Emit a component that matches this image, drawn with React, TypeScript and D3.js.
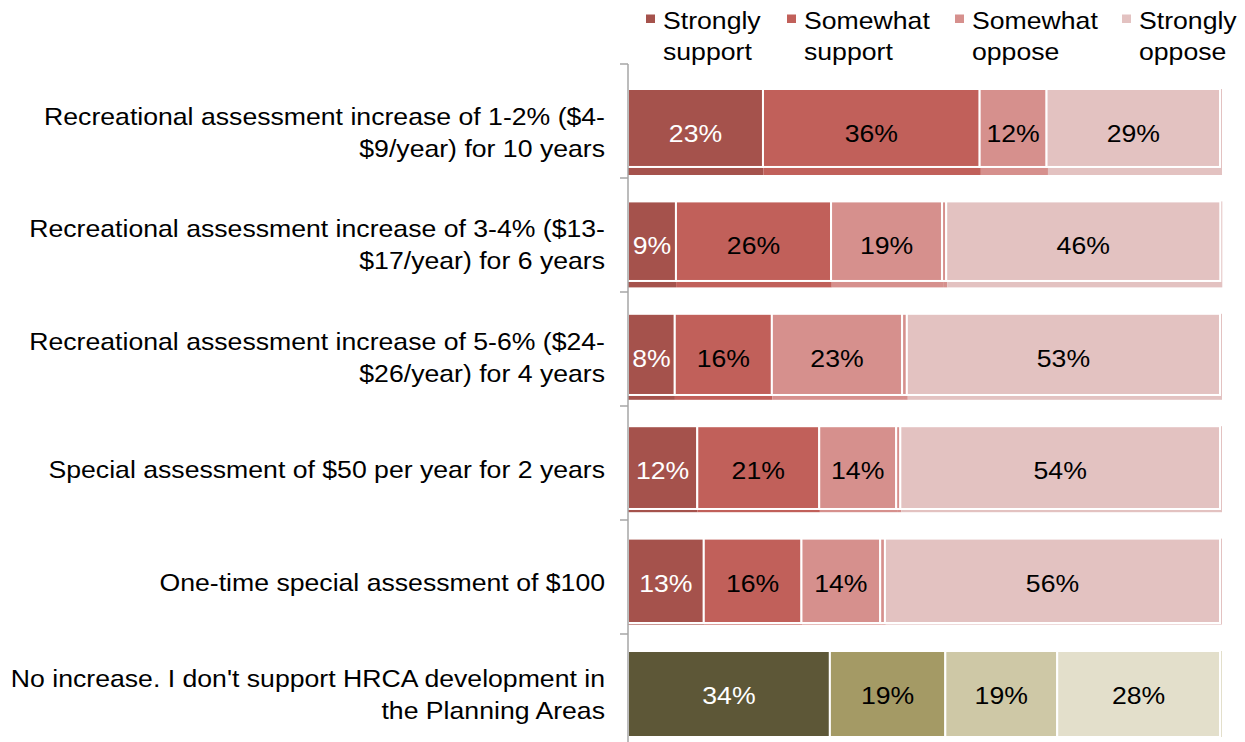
import * as d3 from 'd3'

const categories = [
  ['Recreational assessment increase of 1-2% ($4-', '$9/year) for 10 years'],
  ['Recreational assessment increase of 3-4% ($13-', '$17/year) for 6 years'],
  ['Recreational assessment increase of 5-6% ($24-', '$26/year) for 4 years'],
  ['Special assessment of $50 per year for 2 years'],
  ['One-time special assessment of $100'],
  ["No increase. I don't support HRCA development in", 'the Planning Areas'],
]
const catKeys = categories.map((c) => c.join(' '))

const seriesNames = ['Strongly support', 'Somewhat support', 'Somewhat oppose', "Don't know", 'Strongly oppose']
const legendNames = [['Strongly', 'support'], ['Somewhat', 'support'], ['Somewhat', 'oppose'], ['Strongly', 'oppose']]

const stronglySupport = [22.8, 8.1, 7.9, 11.7, 12.8, 34.1]
const somewhatSupport = [36.6, 26.2, 16.4, 20.6, 16.5, 19.5]
const somewhatOppose = [11.3, 18.75, 22.0, 13.0, 13.3, 18.9]
const dontKnow = [0, 0.7, 0.8, 0.7, 0.8, 0]
const stronglyOppose = [29.3, 46.3, 52.9, 54.0, 56.6, 27.5]

const labelsStrongSupport = ['23%', '9%', '8%', '12%', '13%', '34%']
const labelsSomeSupport = ['36%', '26%', '16%', '21%', '16%', '19%']
const labelsSomeOppose = ['12%', '19%', '23%', '14%', '14%', '19%']
const labelsStrongOppose = ['29%', '46%', '53%', '54%', '56%', '28%']

const RED = ['#a5524c', '#c1605a', '#d6908d', '#d6908d', '#e3c2c1']
const OLIVE = ['#5d5737', '#a49a65', '#cec8a6', '#cec8a6', '#e3dfcb']
const TEXT_COL = ['#fff', '#000', '#000', '#000', '#000']

const FONT = '"Liberation Sans", Arial, sans-serif'
const SX = 1.11

const W = 1245
const H = 742
const AX = 628

function T({ x, y, anchor = 'start', fill = '#000', children }: any) {
  return (
    <text
      transform={`translate(${x},${y}) scale(${SX},1)`}
      textAnchor={anchor}
      fontFamily={FONT}
      fontSize={24}
      fill={fill}
    >
      {children}
    </text>
  )
}

export default function App() {
  const values = [stronglySupport, somewhatSupport, somewhatOppose, dontKnow, stronglyOppose]
  const labels = [labelsStrongSupport, labelsSomeSupport, labelsSomeOppose, null, labelsStrongOppose]

  const rows = catKeys.map((k, i) => {
    const o: any = { key: k }
    seriesNames.forEach((s, j) => (o[s] = values[j][i]))
    return o
  })
  const stacked = d3.stack().keys(seriesNames)(rows)

  // front layer and slightly offset back layer
  const xF = d3.scaleLinear().domain([0, 100]).range([AX, 1220])
  const xB = d3.scaleLinear().domain([0, 100]).range([AX, 1222])
  const yA = d3.scaleBand().domain(catKeys).range([89, 737]).paddingInner(0.235)
  const yB = d3.scaleBand().domain(catKeys).range([81, 737]).paddingInner(0.246)
  const yAxis = d3.scaleBand().domain(catKeys).range([64, 748])

  const colorFor = (i: number, j: number) => (i === catKeys.length - 1 ? OLIVE[j] : RED[j])

  return (
    <svg width={W} height={H} style={{ position: 'absolute', left: 0, top: 0, background: '#fff' }}>
      {/* back layer strips */}
      {stacked.map((s, j) => (
        <g key={'b' + j}>
          {s.map((d, i) => (
            <rect
              key={i}
              x={xB(d[0])}
              width={Math.max(0, xB(d[1]) - xB(d[0]))}
              y={yA(catKeys[i])}
              height={yA.bandwidth()}
              fill={colorFor(i, j)}
            />
          ))}
        </g>
      ))}
      {/* front bars */}
      {stacked.map((s, j) => (
        <g key={'f' + j}>
          {s.map((d, i) => {
            const top = yA(catKeys[i])!
            const bottom = yB(catKeys[i])! + yB.bandwidth()
            if (d[1] - d[0] <= 0) return null
            return (
              <rect
                key={i}
                x={xF(d[0])}
                width={xF(d[1]) - xF(d[0])}
                y={top}
                height={bottom - top}
                fill={colorFor(i, j)}
                stroke="#fff"
                strokeWidth={2}
              />
            )
          })}
        </g>
      ))}
      {/* value labels */}
      {stacked.map((s, j) =>
        labels[j]
          ? s.map((d, i) => (
              <T
                key={`l${j}-${i}`}
                x={(xF(d[0]) + xF(d[1])) / 2}
                y={yA(catKeys[i])! + yA.bandwidth() / 2 + 10}
                anchor="middle"
                fill={TEXT_COL[j]}
              >
                {labels[j]![i]}
              </T>
            ))
          : null
      )}
      {/* category axis */}
      <line x1={AX} x2={AX} y1={64} y2={748} stroke="#a6a6a6" strokeWidth={1.5} />
      {catKeys.map((k) => (
        <line key={k} x1={620} x2={AX} y1={yAxis(k)} y2={yAxis(k)} stroke="#a6a6a6" strokeWidth={1.5} />
      ))}
      <line x1={620} x2={AX} y1={748} y2={748} stroke="#a6a6a6" strokeWidth={1.5} />
      {categories.map((lines, i) => {
        const cy = yA(catKeys[i])! + yA.bandwidth() / 2
        const y0 = cy - ((lines.length - 1) * 32) / 2 + 9
        return lines.map((ln, li) => (
          <T key={`c${i}-${li}`} x={605} y={y0 + li * 32} anchor="end">
            {ln}
          </T>
        ))
      })}
      {/* legend */}
      {legendNames.map((nm, j) => {
        const lx = [646, 787, 955, 1122][j]
        const col = RED[j === 3 ? 4 : j]
        return (
          <g key={'lg' + j}>
            <rect x={lx} y={14.5} width={9} height={8.5} fill={col} />
            <T x={lx + 17} y={29}>{nm[0]}</T>
            <T x={lx + 17} y={60}>{nm[1]}</T>
          </g>
        )
      })}
    </svg>
  )
}
